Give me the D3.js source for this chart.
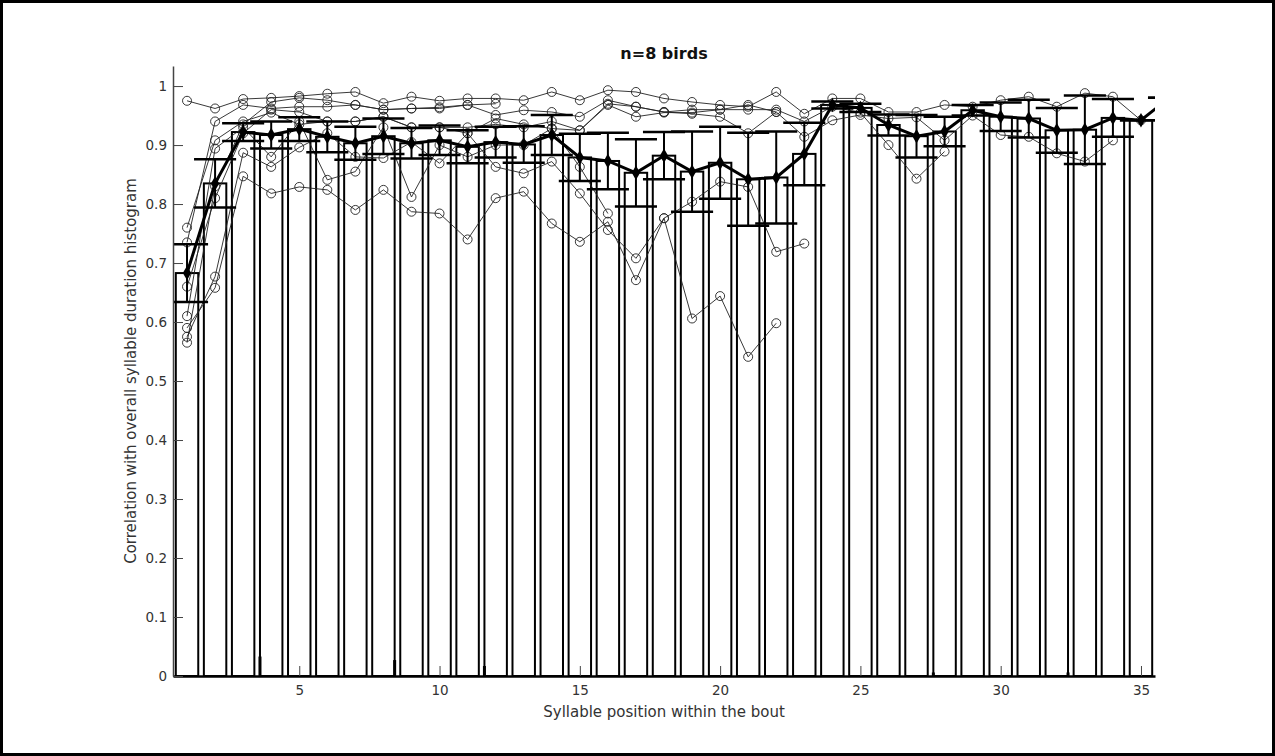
<!DOCTYPE html>
<html>
<head>
<meta charset="utf-8">
<script src="https://cdnjs.cloudflare.com/ajax/libs/d3/7.8.5/d3.min.js"></script>
<style>
  body { margin: 0; background: #fff; }
  text { font-family: "DejaVu Sans", sans-serif; }
</style>
</head>
<body>
<div id="chart"></div>
<script>
// syllable positions 1..36 (36 is only partly visible at the right edge)
var positions = d3.range(1, 37);

// group mean and error (std) per position
var means = [0.683, 0.835, 0.922, 0.917, 0.927, 0.914, 0.903, 0.915, 0.903, 0.908,
             0.897, 0.905, 0.901, 0.917, 0.879, 0.873, 0.853, 0.882, 0.855, 0.870,
             0.842, 0.845, 0.885, 0.968, 0.963, 0.934, 0.915, 0.923, 0.959, 0.948,
             0.945, 0.925, 0.926, 0.946, 0.942, 0.980];
var errs = [0.049, 0.041, 0.015, 0.023, 0.020, 0.026, 0.028, 0.030, 0.026, 0.025,
            0.028, 0.026, 0.031, 0.034, 0.040, 0.048, 0.057, 0.040, 0.068, 0.061,
            0.079, 0.078, 0.053, 0.006, 0.007, 0.018, 0.036, 0.025, 0.009, 0.024,
            0.032, 0.038, 0.058, 0.032, 0.000, 0.000];

// individual birds (null = no syllable at that position)
var bird1 = [0.975, 0.962, 0.978, 0.980, 0.983, 0.987, 0.990, 0.971, 0.982, 0.975,
             0.979, 0.979, 0.976, 0.990, 0.976, 0.993, 0.990, 0.979, 0.973, 0.968,
             0.965, 0.990, 0.953, 0.979, 0.979, 0.956, 0.956, 0.968, 0.965, 0.976,
             0.982, 0.965, 0.988, 0.982, 0.942, 0.980];
var bird2 = [0.735, 0.940, 0.968, 0.962, 0.965, 0.965, 0.968, 0.960, 0.962, 0.964,
             0.968, 0.951, 0.959, 0.956, 0.948, 0.976, 0.965, 0.956, 0.953, 0.948,
             0.920, 0.956, 0.914, 0.942, 0.951, 0.945, 0.947, 0.908, 0.950, 0.917,
             0.914, 0.886, 0.872, 0.908, null, null];
var bird3 = [0.760, 0.908, 0.940, 0.955, 0.935, 0.940, 0.940, 0.948, 0.930, 0.930,
             0.920, 0.945, 0.935, 0.928, 0.925, 0.968, 0.948, 0.955, 0.955, 0.960,
             0.960, 0.960, 0.940, 0.965, 0.955, 0.900, 0.843, 0.889, null, null,
             null, null, null, null, null, null];
var bird4 = [0.610, 0.894, 0.930, 0.880, 0.940, 0.841, 0.855, 0.930, 0.812, 0.900,
             0.880, 0.900, 0.900, 0.928, 0.863, 0.784, null, null, null, null,
             null, null, null, null, null, null, null, null, null, null,
             null, null, null, null, null, null];
var bird5 = [0.590, 0.658, 0.847, 0.818, 0.829, 0.824, 0.790, 0.824, 0.787, 0.784,
             0.740, 0.810, 0.821, 0.767, 0.736, 0.770, 0.671, 0.776, 0.606, 0.644,
             0.541, 0.598, null, null, null, null, null, null, null, null,
             null, null, null, null, null, null];
var bird6 = [0.575, 0.677, 0.887, 0.863, 0.896, 0.920, 0.880, 0.878, 0.905, 0.869,
             0.920, 0.863, 0.852, 0.872, 0.818, 0.756, 0.708, 0.776, 0.804, 0.838,
             0.829, 0.719, 0.733, null, null, null, null, null, null, null,
             null, null, null, null, null, null];
var bird7 = [0.660, 0.810, 0.920, 0.960, 0.956, 0.940, 0.940, 0.948, 0.930, 0.930,
             0.930, 0.935, 0.930, 0.940, 0.925, 0.970, 0.965, 0.956, 0.960, 0.960,
             0.968, 0.956, null, null, null, null, null, null, null, null,
             null, null, null, null, null, null];
var bird8 = [0.565, 0.830, 0.935, 0.973, 0.980, 0.976, 0.968, 0.960, 0.962, 0.962,
             0.968, 0.970, null, null, null, null, null, null, null, null,
             null, null, null, null, null, null, null, null, null, null,
             null, null, null, null, null, null];
var birds = [bird1, bird2, bird3, bird4, bird5, bird6, bird7, bird8];

// thin leftover bar slivers visible at the baseline
var stubX = [3.6, 8.4, 11.6, 27.6, 32.4];
var stubY = [0.033, 0.027, 0.017, 0.006, 0.006];

var yTicks = d3.range(0, 1.01, 0.1);
var xTicks = [5, 10, 15, 20, 25, 30, 35];

var W = 1275, H = 756;
var margin = {left: 173, right: 120, top: 66, bottom: 80};

var svg = d3.select("#chart").append("svg")
    .attr("width", W).attr("height", H);

// figure frame
svg.append("rect")
    .attr("x", 1.5).attr("y", 1.5)
    .attr("width", W - 3).attr("height", H - 3)
    .attr("fill", "none").attr("stroke", "#000").attr("stroke-width", 3);

var x = d3.scaleLinear().domain([0.5, 35.5]).range([margin.left, W - margin.right]);
var y = d3.scaleLinear().domain([0, 1.034]).range([H - margin.bottom, margin.top]);

svg.append("defs").append("clipPath").attr("id", "plotclip")
  .append("rect")
    .attr("x", x(0.5)).attr("y", y(1.034))
    .attr("width", x(35.5) - x(0.5)).attr("height", y(0) - y(1.034));

var plot = svg.append("g").attr("clip-path", "url(#plotclip)");

// bars (white, black edge, width 0.8)
plot.selectAll("rect.bar")
  .data(positions)
  .enter().append("rect")
    .attr("class", "bar")
    .attr("x", function(d){ return x(d - 0.4); })
    .attr("width", function(d){ return x(d + 0.4) - x(d - 0.4); })
    .attr("y", function(d, i){ return y(means[i]); })
    .attr("height", function(d, i){ return y(0) - y(means[i]); })
    .attr("fill", "#fff")
    .attr("stroke", "#000")
    .attr("stroke-width", 2);

plot.selectAll("line.stub")
  .data(stubX)
  .enter().append("line")
    .attr("x1", function(d){ return x(d); })
    .attr("x2", function(d){ return x(d); })
    .attr("y1", y(0))
    .attr("y2", function(d, i){ return y(stubY[i]); })
    .attr("stroke", "#000")
    .attr("stroke-width", 3);

// individual birds
var birdLine = d3.line()
    .defined(function(d){ return d != null; })
    .x(function(d, i){ return x(positions[i]); })
    .y(function(d){ return y(d); });

birds.forEach(function(b){
  plot.append("path")
      .attr("d", birdLine(b))
      .attr("fill", "none")
      .attr("stroke", "#222")
      .attr("stroke-width", 0.9);

  plot.selectAll(null)
    .data(b.map(function(v, i){ return {x: positions[i], v: v}; })
           .filter(function(d){ return d.v != null; }))
    .enter().append("circle")
      .attr("cx", function(d){ return x(d.x); })
      .attr("cy", function(d){ return y(d.v); })
      .attr("r", 4.5)
      .attr("fill", "none")
      .attr("stroke", "#222")
      .attr("stroke-width", 0.9);
});

// error bars
var capHalf = 0.75;
var eb = plot.selectAll("g.eb")
  .data(positions)
  .enter().append("g").attr("class", "eb");

eb.append("line")
    .attr("x1", function(d){ return x(d); })
    .attr("x2", function(d){ return x(d); })
    .attr("y1", function(d, i){ return y(means[i] - errs[i]); })
    .attr("y2", function(d, i){ return y(means[i] + errs[i]); })
    .attr("stroke", "#000").attr("stroke-width", 2);

[-1, 1].forEach(function(s){
  eb.append("line")
      .attr("x1", function(d){ return x(d - capHalf); })
      .attr("x2", function(d){ return x(d + capHalf); })
      .attr("y1", function(d, i){ return y(means[i] + s * errs[i]); })
      .attr("y2", function(d, i){ return y(means[i] + s * errs[i]); })
      .attr("stroke", "#000").attr("stroke-width", 2.5);
});

// mean line
plot.append("path")
    .attr("d", d3.line()
        .x(function(d, i){ return x(positions[i]); })
        .y(function(d){ return y(d); })(means))
    .attr("fill", "none")
    .attr("stroke", "#000")
    .attr("stroke-width", 3);

plot.selectAll("path.meanpt")
  .data(means)
  .enter().append("path")
    .attr("class", "meanpt")
    .attr("d", d3.symbol().type(d3.symbolDiamond).size(60))
    .attr("transform", function(d, i){ return "translate(" + x(positions[i]) + "," + y(d) + ")"; })
    .attr("fill", "#000");

// axes
var axisColor = "#444";
var gx = svg.append("g").attr("transform", "translate(0," + y(0) + ")")
    .call(d3.axisBottom(x).tickValues(xTicks).tickSizeInner(-10).tickSizeOuter(0).tickPadding(9));
var gy = svg.append("g").attr("transform", "translate(" + x(0.5) + ",0)")
    .call(d3.axisLeft(y).tickValues(yTicks).tickSizeInner(-10).tickSizeOuter(0).tickPadding(6)
          .tickFormat(d3.format("~g")));

[gx, gy].forEach(function(g){
  g.select(".domain").attr("stroke", axisColor).attr("stroke-width", 1.5);
  g.selectAll(".tick line").attr("stroke", axisColor);
  g.selectAll(".tick text").attr("fill", "#333").style("font-size", "13.5px")
      .style("font-family", "DejaVu Sans, sans-serif");
});
gx.select(".domain").attr("stroke", "#000").attr("stroke-width", 2.5);

// titles
svg.append("text")
    .attr("x", (x(0.5) + x(35.5)) / 2).attr("y", 59)
    .attr("text-anchor", "middle")
    .style("font-size", "16px").style("font-weight", "bold")
    .attr("fill", "#111")
    .text("n=8 birds");

svg.append("text")
    .attr("x", (x(0.5) + x(35.5)) / 2).attr("y", 717)
    .attr("text-anchor", "middle")
    .style("font-size", "15px")
    .attr("fill", "#333")
    .text("Syllable position within the bout");

svg.append("text")
    .attr("transform", "translate(136," + (y(0) + y(1.034)) / 2 + ") rotate(-90)")
    .attr("text-anchor", "middle")
    .style("font-size", "15px")
    .attr("fill", "#333")
    .text("Correlation with overall syllable duration histogram");
</script>
</body>
</html>
